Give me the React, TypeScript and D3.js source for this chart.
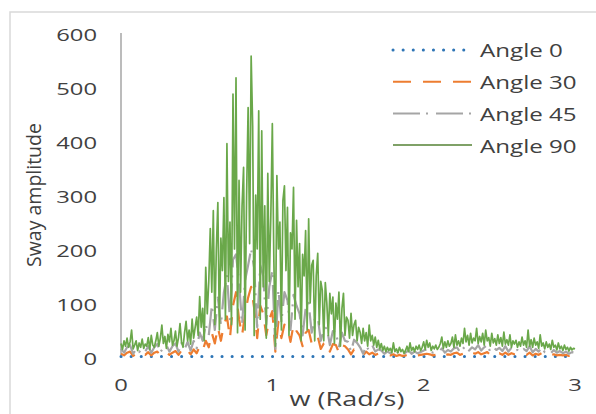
import * as d3 from 'd3';

// Angle 90: sampled every 0.01 rad/s from 0 to 3
const A90_STEP = 0.01;
const angle90 = [
  25, 14, 30, 20, 35, 18, 28, 50, 15, 22,
  30, 12, 26, 18, 33, 16, 24, 20, 36, 14,
  40, 22, 18, 30, 45, 20, 35, 59, 25, 38,
  16, 42, 28, 53, 22, 30, 48, 20, 36, 62,
  28, 18, 45, 66, 30, 50, 24, 70, 35, 55,
  74, 40, 112, 55, 90, 30, 166, 80, 140, 238,
  120, 271, 60, 200, 286, 50, 220, 160, 295, 70,
  395, 140, 250, 60, 487, 200, 517, 45, 327, 120,
  280, 351, 50, 300, 462, 210, 557, 428, 40, 300,
  200, 456, 70, 419, 130, 280, 35, 340, 140, 260,
  432, 180, 20, 336, 200, 250, 50, 290, 317, 160,
  277, 40, 230, 200, 314, 70, 253, 130, 210, 30,
  190, 150, 234, 50, 256, 100, 170, 179, 30, 150,
  192, 60, 140, 124, 30, 138, 100, 40, 118, 80,
  111, 25, 100, 70, 120, 20, 90, 118, 40, 74,
  68, 35, 81, 40, 60, 68, 30, 55, 46, 25,
  53, 30, 45, 20, 59, 30, 40, 22, 37, 18,
  31, 15, 25, 12, 20, 10, 18, 12, 16, 8,
  26, 10, 15, 8, 18, 10, 14, 7, 12, 20,
  10, 26, 12, 18, 10, 20, 14, 22, 12, 18,
  28, 14, 31, 18, 26, 12, 20, 15, 22, 14,
  18, 25, 37, 16, 28, 18, 30, 20, 25, 37,
  18, 41, 22, 30, 20, 35, 25, 53, 28, 40,
  22, 44, 26, 35, 30, 53, 25, 38, 28, 44,
  22, 50, 30, 36, 20, 44, 26, 34, 22, 41,
  25, 36, 20, 46, 24, 32, 22, 41, 18, 30,
  24, 31, 18, 28, 20, 37, 22, 30, 18, 50,
  20, 32, 18, 35, 22, 28, 16, 41, 20, 26,
  15, 28, 18, 24, 14, 31, 18, 22, 13, 26,
  15, 20, 12, 22, 14, 18, 11, 18, 13, 16,
  15,
];
// Angle 30 / 45: sampled every 0.02 rad/s
const A_STEP = 0.02;
const angle45 = [
  15, 8, 18, 22, 6, 14, 9, 16, 10, 20, 8, 18, 24, 9, 17, 22, 10, 20, 25, 10, 26, 14, 28, 12, 30, 16,
  45, 30, 60, 40, 95, 50, 110, 60, 120, 150,
  70, 180, 190, 140, 60, 142, 170, 200, 165, 55,
  170, 150, 60, 130, 160, 15, 125, 65, 120, 105,
  50, 115, 95, 80, 40, 90, 100, 45, 70, 75,
  30, 50, 55, 22, 48, 45, 18, 45, 30, 28,
  10, 32, 26, 18, 6, 20, 12, 22, 10, 14,
  12, 6, 10, 7, 10, 6, 12, 5, 8, 12,
  6, 10, 7, 9, 12, 14, 12, 8, 10, 9,
  16, 8, 13, 10, 16, 18, 9, 15, 22, 12,
  18, 14, 22, 12, 18, 22, 10, 18, 13, 17,
  11, 20, 10, 17, 12, 13, 8, 15, 11, 20,
  9, 15, 10, 17, 9, 12, 7, 13, 8, 11,
  7, 10, 6, 9, 8,
];
const angle30 = [
  6, 3, 8, 10, 2, 6, 3, 7, 4, 9, 3, 8, 10, 3, 7, 9, 4, 8, 11, 4, 12, 6, 12, 5, 14, 7,
  20, 12, 30, 18, 45, 25, 55, 30, 60, 75,
  35, 95, 120, 70, 40, 80, 110, 130, 90, 35,
  95, 80, 40, 70, 85, 10, 65, 35, 60, 55,
  28, 60, 48, 40, 20, 45, 50, 25, 35, 38,
  15, 25, 28, 10, 24, 22, 8, 22, 20, 14,
  5, 14, 12, 7, 3, 10, 5, 8, 4, 6,
  5, 3, 4, 3, 5, 2, 4, 2, 3, 5,
  2, 4, 3, 4, 5, 6, 5, 3, 4, 4,
  7, 3, 5, 4, 7, 8, 4, 6, 9, 5,
  8, 6, 9, 5, 7, 9, 4, 8, 5, 7,
  4, 8, 4, 7, 5, 5, 3, 6, 4, 8,
  3, 6, 4, 7, 3, 5, 3, 5, 3, 4,
  3, 4, 2, 3, 3,
];
// Angle 0 is flat, sampled every 0.1 rad/s
const A0_STEP = 0.1;
const angle0 = [
  1, 1, 1, 1, 1, 1, 1, 1, 1, 1, 1, 1, 1, 1, 1, 1,
  1, 1, 1, 1, 1, 1, 1, 1, 1, 1, 1, 1, 1, 1, 1,
];

const yTicks = [0, 100, 200, 300, 400, 500, 600];
const xTicks = [0, 1, 2, 3];

const series = [
  { name: 'Angle 0', values: angle0, step: A0_STEP, color: '#2E75B6', width: 3, dash: '0.1 10', cap: 'round' },
  { name: 'Angle 30', values: angle30, step: A_STEP, color: '#ED7D31', width: 2.2, dash: '18 12', cap: 'butt' },
  { name: 'Angle 45', values: angle45, step: A_STEP, color: '#A5A5A5', width: 2.2, dash: '27 6 2 8', cap: 'butt' },
  { name: 'Angle 90', values: angle90, step: A90_STEP, color: '#6AA84A', width: 1.7, dash: null, cap: 'butt' },
];

const FONT = "'Open Sans', sans-serif";
const TXT = '#404040';

export default function App() {
  const width = 596;
  const height = 414;
  const x = d3.scaleLinear().domain([0, 3]).range([121, 575]);
  const y = d3.scaleLinear().domain([0, 600]).range([357, 33]);

  return (
    <svg
      width={width}
      height={height}
      style={{ position: 'absolute', left: 0, top: 0, background: '#fff' }}
    >
      <rect x={10} y={12} width={600} height={420} fill="none" stroke="#d9d9d9" strokeWidth={1.5} />

      {/* y axis line */}
      <line x1={x(0)} x2={x(0)} y1={y(600)} y2={y(0)} stroke="#a6a6a6" strokeWidth={1.5} />

      {series.map((s) => {
        const line = d3
          .line<number>()
          .x((_, i) => x(i * s.step))
          .y((d) => y(d));
        return (
          <path
            key={s.name}
            d={line(s.values) || ''}
            fill="none"
            stroke={s.color}
            strokeWidth={s.width}
            strokeDasharray={s.dash || undefined}
            strokeLinecap={s.cap as any}
            strokeLinejoin="round"
          />
        );
      })}

      {yTicks.map((t) => (
        <text
          key={t}
          transform={`translate(97,${y(t) + 1}) scale(1.4,1)`}
          textAnchor="end"
          dominantBaseline="central"
          fontFamily={FONT}
          fontSize={17}
          fill={TXT}
        >
          {t}
        </text>
      ))}
      {xTicks.map((t) => (
        <text
          key={t}
          transform={`translate(${x(t)},384) scale(1.4,1)`}
          textAnchor="middle"
          dominantBaseline="central"
          fontFamily={FONT}
          fontSize={17}
          fill={TXT}
        >
          {t}
        </text>
      ))}

      <text
        transform="translate(347,406) scale(1.35,1)"
        textAnchor="middle"
        fontFamily={FONT}
        fontSize={20}
        fill={TXT}
      >
        w (Rad/s)
      </text>
      <text
        transform="translate(41,195) rotate(-90)"
        textAnchor="middle"
        fontFamily={FONT}
        fontSize={19.5}
        fill={TXT}
      >
        Sway amplitude
      </text>

      {series.map((s, i) => {
        const ly = 50 + i * 31.7;
        return (
          <g key={s.name}>
            <line
              x1={393}
              x2={472}
              y1={ly}
              y2={ly}
              stroke={s.name === 'Angle 90' ? '#548235' : s.color}
              strokeWidth={s.name === 'Angle 90' ? 1.5 : s.name === 'Angle 0' ? 3 : 2}
              strokeDasharray={s.dash || undefined}
              strokeLinecap={s.cap as any}
            />
            <text
              transform={`translate(480,${ly}) scale(1.27,1)`}
              dominantBaseline="central"
              fontFamily={FONT}
              fontSize={19}
              fill={TXT}
            >
              {s.name}
            </text>
          </g>
        );
      })}
    </svg>
  );
}
